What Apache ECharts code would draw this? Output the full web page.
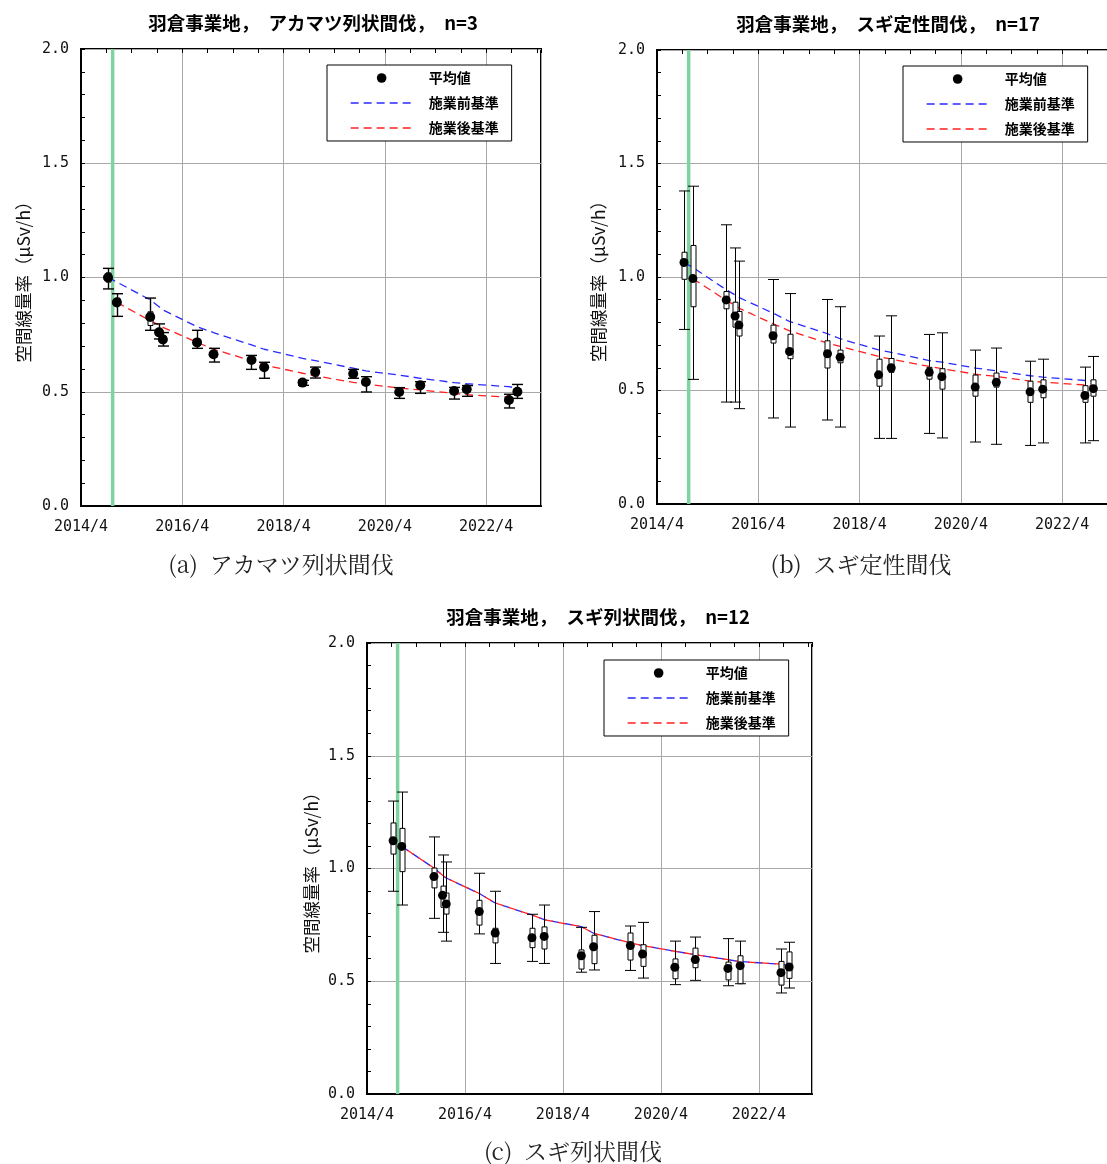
<!DOCTYPE html>
<html>
<head>
<meta charset="utf-8">
<script src="https://cdn.jsdelivr.net/npm/echarts@6/dist/echarts.min.js"></script>
<style>
html,body{margin:0;padding:0;background:#fff;}
#chart{width:1107px;height:1164px;}
</style>
</head>
<body>
<div id="chart"></div>
<script>
// ---- data ----
// measurement dates, months elapsed since 2014/4
const months = [6.4, 8.5, 16.4, 18.5, 19.4, 27.5, 31.4, 40.4, 43.4, 52.5, 55.5, 64.5, 67.5, 75.4, 80.4, 88.4, 91.4, 101.4, 103.4];
const treatMonth = 7.5; // thinning (green line)
const xTickLabels = ['2014/4', '2016/4', '2018/4', '2020/4', '2022/4'];
const yTickLabels = ['0.0', '0.5', '1.0', '1.5', '2.0'];

const titles = ['羽倉事業地，　アカマツ列状間伐，　n=3', '羽倉事業地，　スギ定性間伐，　n=17', '羽倉事業地，　スギ列状間伐，　n=12'];
const captions = ['(a)  アカマツ列状間伐', '(b)  スギ定性間伐', '(c)  スギ列状間伐'];
const yName = '空間線量率（μSv/h）';
const legendNames = ['平均値', '施業前基準', '施業後基準'];

// (a) アカマツ列状間伐
const meanA = [1.000, 0.891, 0.827, 0.760, 0.729, 0.716, 0.664, 0.639, 0.607, 0.540, 0.586, 0.579, 0.543, 0.499, 0.528, 0.503, 0.511, 0.464, 0.500];
const maxA  = [1.040, 0.929, 0.910, 0.797, 0.759, 0.769, 0.690, 0.659, 0.629, 0.550, 0.608, 0.598, 0.566, 0.518, 0.544, 0.519, 0.527, 0.489, 0.532];
const q3A   = [1.020, 0.910, 0.850, 0.775, 0.745, 0.730, 0.675, 0.650, 0.620, 0.545, 0.595, 0.590, 0.555, 0.510, 0.535, 0.510, 0.520, 0.475, 0.510];
const q1A   = [0.980, 0.880, 0.790, 0.745, 0.715, 0.700, 0.650, 0.625, 0.595, 0.535, 0.575, 0.570, 0.530, 0.490, 0.515, 0.490, 0.500, 0.450, 0.490];
const minA  = [0.950, 0.830, 0.769, 0.731, 0.700, 0.690, 0.630, 0.598, 0.559, 0.528, 0.560, 0.559, 0.499, 0.471, 0.493, 0.468, 0.480, 0.429, 0.471];
const preA  = [1.000, 0.980, 0.902, 0.872, 0.858, 0.785, 0.759, 0.705, 0.686, 0.646, 0.636, 0.603, 0.591, 0.573, 0.559, 0.540, 0.535, 0.522, 0.516];
const postA = [null, 0.891, 0.811, 0.792, 0.782, 0.716, 0.686, 0.636, 0.617, 0.581, 0.570, 0.541, 0.534, 0.516, 0.508, 0.493, 0.487, 0.476, 0.470];

// (b) スギ定性間伐
const meanB = [1.064, 0.993, 0.899, 0.828, 0.788, 0.741, 0.672, 0.662, 0.647, 0.569, 0.600, 0.580, 0.561, 0.515, 0.536, 0.494, 0.506, 0.478, 0.508];
const maxB  = [1.379, 1.400, 1.230, 1.128, 1.070, 0.989, 0.927, 0.901, 0.869, 0.740, 0.829, 0.747, 0.754, 0.678, 0.687, 0.629, 0.638, 0.603, 0.650];
const q3B   = [1.109, 1.139, 0.936, 0.889, 0.848, 0.788, 0.748, 0.719, 0.678, 0.638, 0.641, 0.602, 0.596, 0.568, 0.577, 0.541, 0.547, 0.521, 0.547];
const q1B   = [0.990, 0.869, 0.860, 0.779, 0.740, 0.709, 0.640, 0.599, 0.622, 0.519, 0.580, 0.550, 0.506, 0.475, 0.515, 0.448, 0.468, 0.448, 0.475];
const minB  = [0.769, 0.549, 0.449, 0.449, 0.420, 0.379, 0.339, 0.370, 0.339, 0.289, 0.289, 0.311, 0.291, 0.273, 0.263, 0.258, 0.269, 0.269, 0.279];
const preB  = [1.064, 1.042, 0.944, 0.921, 0.910, 0.841, 0.804, 0.750, 0.728, 0.679, 0.668, 0.632, 0.625, 0.599, 0.587, 0.565, 0.559, 0.544, 0.541];
const postB = [null, 0.993, 0.897, 0.875, 0.863, 0.794, 0.763, 0.709, 0.694, 0.650, 0.638, 0.606, 0.596, 0.572, 0.562, 0.541, 0.537, 0.524, 0.518];

// (c) スギ列状間伐
const meanC = [1.123, 1.098, 0.964, 0.881, 0.843, 0.809, 0.714, 0.693, 0.699, 0.613, 0.653, 0.658, 0.621, 0.562, 0.596, 0.557, 0.569, 0.538, 0.563];
const maxC  = [1.299, 1.339, 1.140, 1.060, 1.029, 0.979, 0.899, 0.797, 0.838, 0.739, 0.809, 0.745, 0.761, 0.678, 0.696, 0.689, 0.678, 0.643, 0.673];
const q3C   = [1.202, 1.178, 1.002, 0.922, 0.891, 0.859, 0.735, 0.735, 0.741, 0.639, 0.704, 0.714, 0.662, 0.599, 0.647, 0.585, 0.613, 0.588, 0.630];
const q1C   = [1.064, 0.986, 0.914, 0.828, 0.798, 0.749, 0.670, 0.649, 0.643, 0.554, 0.578, 0.594, 0.566, 0.511, 0.560, 0.506, 0.489, 0.483, 0.513];
const minC  = [0.899, 0.838, 0.779, 0.717, 0.678, 0.710, 0.579, 0.588, 0.579, 0.540, 0.550, 0.548, 0.514, 0.485, 0.504, 0.480, 0.489, 0.448, 0.470];
const preC  = [null, 1.098, 1.002, 0.970, 0.958, 0.889, 0.847, 0.794, 0.773, 0.742, 0.713, 0.670, 0.658, 0.633, 0.618, 0.596, 0.587, 0.576, 0.569];
const postC = [null, 1.098, 1.002, 0.970, 0.958, 0.889, 0.847, 0.794, 0.773, 0.742, 0.713, 0.670, 0.658, 0.633, 0.618, 0.596, 0.587, 0.576, 0.569];

// ---- layout / style ----
const X_MIN = 0, X_MAX = 109;
const panels = [
  {grid: {left: 81, top: 49, width: 460, height: 457}, legend: {left: 327, top: 65}, title: [313, 14], caption: [281, 553], nameGap: 49,
   mean: meanA, max: maxA, q3: q3A, q1: q1A, min: minA, pre: preA, post: postA, lw: 1.4, dot: 10},
  {grid: {left: 657, top: 50, width: 460, height: 454}, legend: {left: 903, top: 66}, title: [888, 15], caption: [861, 553], nameGap: 50,
   mean: meanB, max: maxB, q3: q3B, q1: q1B, min: minB, pre: preB, post: postB, lw: 1, dot: 9},
  {grid: {left: 367, top: 643, width: 445, height: 451}, legend: {left: 604, top: 660}, title: [598, 608], caption: [573, 1140], nameGap: 47,
   mean: meanC, max: maxC, q3: q3C, q1: q1C, min: minC, pre: preC, post: postC, lw: 1, dot: 9}
];
const BLUE = '#2a2aff', RED = '#ff1f1f', GREEN = '#7fd3a0', GRIDC = '#a8a8a8';
const MONO = '"DejaVu Sans Mono", monospace';
const JP = '"Noto Sans CJK JP", sans-serif';
const DASH = [8, 5];

const option = {
  animation: false,
  backgroundColor: '#fff',
  title: [], grid: [], xAxis: [], yAxis: [], legend: [], series: []
};

panels.forEach((p, gi) => {
  option.grid.push(Object.assign({show: true, borderColor: '#000', borderWidth: 2, backgroundColor: 'transparent', outerBoundsMode: 'none', containLabel: false}, p.grid));
  option.title.push({text: titles[gi], left: p.title[0], top: p.title[1], textAlign: 'center', padding: 0,
    textStyle: {fontFamily: JP, fontWeight: 'bold', fontSize: 18.5, color: '#000'}});
  option.title.push({text: captions[gi], left: p.caption[0], top: p.caption[1], textAlign: 'center', padding: 0,
    textStyle: {fontFamily: '"Noto Serif CJK JP", ' + JP, fontWeight: 'normal', fontSize: 23, color: '#222'}});
  // main x axis: labels + grid lines
  option.xAxis.push({gridIndex: gi, type: 'value', min: X_MIN, max: X_MAX, interval: 24,
    axisLine: {show: true, lineStyle: {color: '#000', width: 2}},
    axisTick: {show: false},
    axisLabel: {margin: 14, fontFamily: MONO, fontSize: 15, color: '#111',
      formatter: v => (v % 24 === 0 && xTickLabels[v / 24]) ? xTickLabels[v / 24] : ''},
    splitLine: {show: true, lineStyle: {color: GRIDC, width: 1}}});
  // minor x axis: 6-month ticks only
  option.xAxis.push({gridIndex: gi, type: 'value', min: X_MIN, max: X_MAX, interval: 6,
    axisLine: {show: false}, axisLabel: {show: false}, splitLine: {show: false},
    axisTick: {show: true, inside: true, length: 4, lineStyle: {color: '#000', width: 1}}});
  option.yAxis.push({gridIndex: gi, type: 'value', min: 0, max: 2, interval: 0.5,
    name: yName, nameLocation: 'middle', nameGap: p.nameGap, nameRotate: 90,
    nameTextStyle: {fontFamily: JP, fontSize: 17.5, color: '#111'},
    axisLine: {show: true, lineStyle: {color: '#000', width: 2}},
    axisTick: {show: true, inside: true, length: 4, lineStyle: {color: '#000'}},
    minorTick: {show: true, splitNumber: 5, length: 4, lineStyle: {color: '#000'}},
    axisLabel: {margin: 12, fontFamily: MONO, fontSize: 15, color: '#111',
      formatter: v => yTickLabels[Math.round(v / 0.5)] || ''},
    splitLine: {show: true, lineStyle: {color: GRIDC, width: 1}}});

  option.legend.push({
    orient: 'vertical', left: p.legend.left, top: p.legend.top, z: 10,
    selectedMode: false,
    itemWidth: 62, itemHeight: 12, itemGap: 11,
    padding: [6, 13, 6, 23],
    borderColor: '#000', borderWidth: 1, borderRadius: 0, backgroundColor: '#fff',
    textStyle: {fontFamily: JP, fontWeight: 'bold', fontSize: 14, color: '#000', padding: [0, 0, 0, 11]},
    lineStyle: {width: 1.3},
    data: [
      {name: legendNames[0], lineStyle: {opacity: 0}},
      {name: legendNames[1], itemStyle: {opacity: 0}},
      {name: legendNames[2], itemStyle: {opacity: 0}}
    ]
  });

  const xi = gi * 2, yi = gi;
  // green treatment line
  option.series.push({type: 'custom', name: 'treat', xAxisIndex: xi, yAxisIndex: yi, z: 1, silent: true,
    data: [[treatMonth]], encode: {x: 0},
    renderItem: (params, api) => {
      const top = api.coord([api.value(0), 2]);
      const bot = api.coord([api.value(0), 0]);
      return {type: 'line', shape: {x1: top[0], y1: top[1], x2: bot[0], y2: bot[1]},
        style: {stroke: GREEN, lineWidth: 3.5}};
    }});
  const lineData = arr => months.map((m, i) => [m, arr[i]]).filter(d => d[1] != null);
  option.series.push({type: 'line', name: legendNames[1], xAxisIndex: xi, yAxisIndex: yi, z: 2, silent: true,
    data: lineData(p.pre), symbol: 'none', color: BLUE,
    lineStyle: {color: BLUE, width: 1.3, type: DASH}, itemStyle: {color: BLUE}});
  option.series.push({type: 'line', name: legendNames[2], xAxisIndex: xi, yAxisIndex: yi, z: 2, silent: true,
    data: lineData(p.post), symbol: 'none', color: RED,
    lineStyle: {color: RED, width: 1.3, type: DASH, dashOffset: gi === 2 ? 6.5 : 0}, itemStyle: {color: RED}});
  // box & whiskers
  const lw = p.lw;
  option.series.push({type: 'custom', name: 'box', xAxisIndex: xi, yAxisIndex: yi, z: 3, silent: true,
    data: months.map((m, i) => [m, p.min[i], p.q1[i], p.q3[i], p.max[i]]),
    encode: {x: 0, y: [1, 2, 3, 4]},
    renderItem: (params, api) => {
      const x = api.value(0);
      const pLo = api.coord([x, api.value(1)]);
      const pQ1 = api.coord([x, api.value(2)]);
      const pQ3 = api.coord([x, api.value(3)]);
      const pHi = api.coord([x, api.value(4)]);
      const cx = Math.round(pLo[0]) + 0.5;
      const cap = 5.5, bw = 2.5;
      const st = {stroke: '#000', lineWidth: lw};
      return {type: 'group', children: [
        {type: 'line', shape: {x1: cx, y1: pHi[1], x2: cx, y2: pLo[1]}, style: st},
        {type: 'line', shape: {x1: cx - cap, y1: pHi[1], x2: cx + cap, y2: pHi[1]}, style: st},
        {type: 'line', shape: {x1: cx - cap, y1: pLo[1], x2: cx + cap, y2: pLo[1]}, style: st},
        {type: 'rect', shape: {x: cx - bw, y: pQ3[1], width: bw * 2, height: pQ1[1] - pQ3[1]},
          style: {fill: '#fff', stroke: '#000', lineWidth: 1}}
      ]};
    }});
  // mean points
  option.series.push({type: 'line', name: legendNames[0], xAxisIndex: xi, yAxisIndex: yi, z: 4, silent: true,
    data: lineData(p.mean), symbol: 'circle', symbolSize: p.dot, showSymbol: true, color: '#000',
    itemStyle: {color: '#000'}, lineStyle: {width: 0, opacity: 0}});
});

const chart = echarts.init(document.getElementById('chart'), null, {renderer: 'canvas'});
chart.setOption(option);
</script>
</body>
</html>
